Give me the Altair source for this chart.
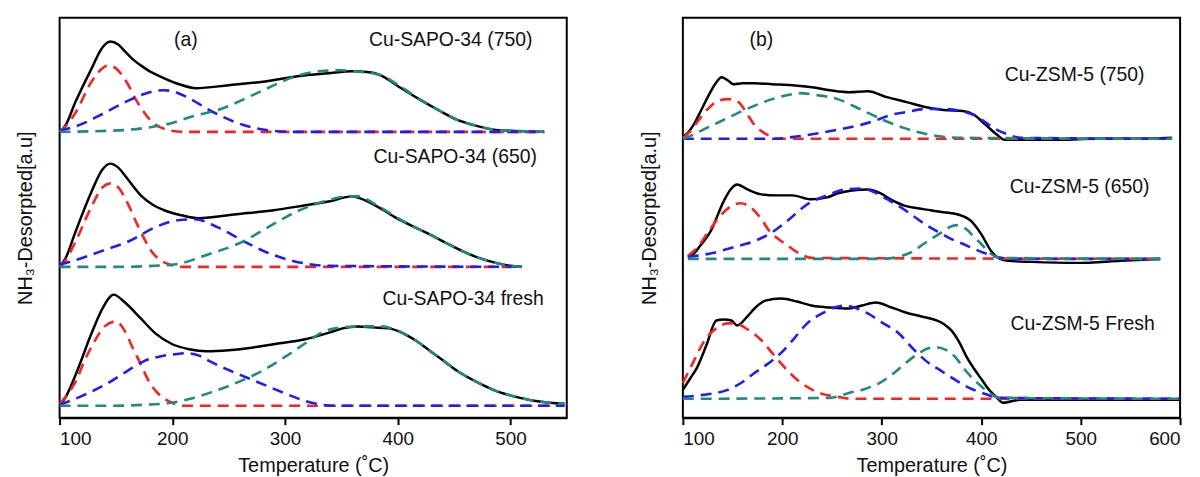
import altair as alt
import pandas as pd

# ---------------- data (T in degC, h = height above each curve's baseline, a.u.) ----------------
# Panel (a) Cu-SAPO-34
A750_TOTAL = [(100,0),(105,6),(114,30),(128,63),(138,85),(145,91),(152,88),(158,81),(165,73),(172,67),(180,61),(189,56),(206,48),(221,44),(250,47),(284,51),(311,56),(338,59),(360,61),(375,60),(385,57),(399,47),(419,33),(436,22),(453,12),(470,6),(487,2),(504,1),(530,0)]
A750_RED = [(100,0),(105,5),(114.5,20),(128,50),(138,64),(143,67),(150,64),(158.5,52),(169,30),(182,10),(196,2),(210,0),(530,0)]
A750_BLUE = [(100,1),(120,8),(138,18),(162,32),(180,40),(192,42),(200,41),(213,35),(236,20),(263,7),(290,1),(310,0),(530,0)]
A750_TEAL = [(100,0),(141,1),(160,2),(182,5),(200,9),(216,15),(243,23),(277,40),(307,55),(330,61),(350,62),(362,61),(385,57),(402,46),(419,33),(436,22),(453,12),(470,6),(487,2),(504,1),(530,0)]

A650_TOTAL = [(100,0),(105,8),(114,35),(128,75),(138,98),(145,104),(152,100),(160,89),(172,72),(182,63),(195,56),(208,52),(223,49),(257,53),(290,57),(318,62),(340,66),(359,71),(380,62),(399,49),(415,40),(428,33),(443,24),(457,16),(472,9),(487,4),(500,1),(510,0)]
A650_RED = [(100,0),(105,6),(114,25),(128,60),(138,80),(145,84),(152,80),(160,65),(170,40),(182,15),(196,3),(210,0),(510,0)]
A650_BLUE = [(100,2),(120,9),(140,17),(162,26),(185,40),(205,47),(220,48),(240,40),(263,26),(285,14),(307,6),(340,1),(510,0)]
A650_TEAL = [(100,0),(150,0),(199,2),(233,13),(260,24),(285,40),(311,56),(335,66),(355,71),(365,71),(380,63),(399,50),(415,40),(428,33),(443,24),(457,16),(472,9),(487,4),(500,1),(510,0)]

AFR_TOTAL = [(100,0),(105,8),(114.5,32),(128,72),(138,98),(148,112),(158,104),(172,88),(185,73),(200,62),(215,57),(230,55),(250,56),(267,58),(290,62),(318,67),(340,74),(351,78),(365,80),(378,79),(392,78),(405,73),(417,65),(429,55),(441,45),(453,35),(470,24),(487,15),(505,9),(521,5),(535,3),(548,2)]
AFR_RED = [(100,2),(106,10),(114.5,25),(122,45),(131,65),(140,80),(150,85),(158,75),(165,58),(172,42),(179,25),(186,14),(192,8),(200,3),(209,0),(548,0)]
AFR_BLUE = [(100,1),(120,10),(141.6,22),(160,35),(175,45),(190,50),(202.5,52),(213,53),(225,50),(233,45),(250,36),(267,28),(284,20),(301,12),(315,6),(328,2),(345,0),(548,0)]
AFR_TEAL = [(100,0),(148,0),(175,1),(199,3),(216,7),(233,13),(250,20),(267,28),(284,38),(301,50),(318,63),(334.5,75),(350,79),(368,80),(385,80),(405,73),(417,65),(429,55),(441,45),(453,35),(470,24),(487,15),(505,9),(521,5),(535,3),(548,2)]

# Panel (b) Cu-ZSM-5
B750_TOTAL = [(100,2),(105,6),(110.7,14),(118,28),(126,44),(133,56),(139,62),(145,59),(151,55),(160,56),(172,56),(190,55),(210,54),(230,52),(248,49),(267,47),(286,48),(305,42),(325,37),(343.5,32),(362,29),(381.7,28),(393,24),(404.6,14),(416,4),(423.7,-1),(439,-1),(480,-1),(515,0),(555,0),(591.6,1)]
B750_RED = [(100,1),(107,7),(114.5,17),(125,30),(135,38),(145,40),(156,37),(164,26),(172,14),(180,7),(187,3),(198,0),(592,0)]
B750_BLUE = [(100,0),(191,0),(212,2),(233,5),(255,9),(278.6,14),(295,19),(309,24),(325,27),(343.5,30),(362.6,30),(380,28),(393,24),(405,16),(416,9),(428,4),(439,1),(592,0)]
B750_TEAL = [(100,0),(110,4),(122,10),(143,20),(164,30),(190,40),(210,45),(218,46),(235,44),(255.7,40),(278,30),(301.5,19),(322,11),(343.5,5),(362,2),(381.7,1),(592,0)]

B650_TOTAL = [(105,2),(110.7,5),(118,14),(128,28),(141,58),(148,70),(154.6,75),(165,70),(179,65),(195,64),(210,64),(229,60),(245,62),(255.7,66),(270,69),(286,70),(299,66),(309,60),(322,54),(336,51),(349,49),(362,47),(376,45),(390,38),(400,25),(410,8),(417,1),(427,-2),(450,-3),(496,-4),(540,-2),(580,0)]
B650_RED = [(105,3),(115,12),(126,28),(140,46),(150,54),(158,56),(168,52),(179,40),(187,28),(196,20),(206,13),(218,5),(229,1),(580,0)]
B650_BLUE = [(105,2),(130,6),(152,12),(172,18),(190,27),(207,40),(225,55),(245,64),(263,70),(278.6,71),(295,66),(309,58),(322,50),(332,43),(345,34),(359,26),(370,20),(382,15),(393,10),(403,6),(416,2),(430,0),(580,0)]
B650_TEAL = [(105,0),(300,0),(320,3),(332,8),(342,15),(359,26),(368,32),(376,34),(385,30),(393,22),(400,15),(410,5),(420,1),(580,0)]

BFR_TOTAL = [(100,9),(107,20),(114.5,32),(124,55),(133.6,79),(141,80),(149,79),(154.6,74),(164,82),(173,92),(183,99),(198.5,101),(215,98),(229,94),(248,92),(267,91),(280,94),(294,97),(310,92),(324,87),(340,83),(355,79),(363,75),(370,69),(378,57),(385.5,42),(393,30),(400.8,19),(408,9),(416,1),(421.8,-4),(439,-1),(500,-1),(600,-1)]
BFR_RED = [(100,16),(110,36),(122,59),(135,72),(145,76),(152.7,76),(165,70),(179,59),(190,46),(202,32),(214,20),(225,12),(240,5),(255.7,2),(270,0),(600,0)]
BFR_BLUE = [(100,2),(120,4),(145,9),(160,17),(172,26),(185,35),(198.5,46),(212,61),(225,76),(240,86),(252,92),(263,94),(275,91),(286,86),(300,77),(317,66),(330,52),(343.5,39),(360,28),(374,19),(388,11),(400.8,6),(420,1),(600,0)]
BFR_TEAL = [(100,0),(248,1),(267,6),(283,10),(298,16),(311,25),(324,36),(336,45),(347,51),(355,52),(365,49),(374,42),(383,30),(393,19),(400.8,12),(408,6),(420,1),(600,0)]

# baselines of the stacked curves (a.u. above the panel bottom)
A_OFFSETS = {"750": 288, "650": 152, "fresh": 12}
B_OFFSETS = {"750": 281, "650": 160, "fresh": 19}

# labels: (T, y, text)
A_LABELS = [(212, 381, "(a)"), (447, 381, "Cu-SAPO-34 (750)"), (451, 263, "Cu-SAPO-34 (650)"), (458, 120, "Cu-SAPO-34 fresh")]
B_LABELS = [(179, 381, "(b)"), (494, 345, "Cu-ZSM-5 (750)"), (499, 232, "Cu-ZSM-5 (650)"), (502, 94, "Cu-ZSM-5 Fresh")]

A_TICKS = [100, 200, 300, 400, 500]
B_TICKS = [100, 200, 300, 400, 500, 600]

COMPONENTS = ["total", "red", "blue", "teal"]
COLORS = {"total": "#000000", "red": "#ff2020", "blue": "#1c1cff", "teal": "#1f8a80"}

A_CURVES = {
    "750": [A750_TOTAL, A750_RED, A750_BLUE, A750_TEAL],
    "650": [A650_TOTAL, A650_RED, A650_BLUE, A650_TEAL],
    "fresh": [AFR_TOTAL, AFR_RED, AFR_BLUE, AFR_TEAL],
}
B_CURVES = {
    "750": [B750_TOTAL, B750_RED, B750_BLUE, B750_TEAL],
    "650": [B650_TOTAL, B650_RED, B650_BLUE, B650_TEAL],
    "fresh": [BFR_TOTAL, BFR_RED, BFR_BLUE, BFR_TEAL],
}


def build_df(curves, offsets):
    rows = []
    for sample, comps in curves.items():
        for comp, pts in zip(COMPONENTS, comps):
            for t, h in pts:
                rows.append({"sample": sample, "comp": comp, "T": t, "y": h + offsets[sample]})
    return pd.DataFrame(rows)


def panel(curves, offsets, labels, xmax, ticks, width):
    df = build_df(curves, offsets)
    x = alt.X("T:Q", scale=alt.Scale(domain=[100, xmax], nice=False, zero=False),
              axis=alt.Axis(values=ticks, title="Temperature (˚C)", format="d"))
    y = alt.Y("y:Q", scale=alt.Scale(domain=[0, 403], nice=False, zero=False),
              axis=alt.Axis(title="NH₃-Desorpted[a.u]", labels=False, ticks=False, domain=False))
    layers = []
    for comp in COMPONENTS:
        sub = df[df["comp"] == comp]
        if comp == "total":
            mk = alt.Chart(sub).mark_line(color=COLORS[comp], strokeWidth=2.5, interpolate="monotone")
        else:
            mk = alt.Chart(sub).mark_line(color=COLORS[comp], strokeWidth=2.6, strokeDash=[11, 7],
                                          interpolate="monotone")
        layers.append(mk.encode(x=x, y=y, detail="sample:N"))
    ldf = pd.DataFrame(labels, columns=["T", "y", "text"])
    txt = alt.Chart(ldf).mark_text(fontSize=19.5, font="Liberation Sans", color="#111111",
                                   align="center", baseline="middle").encode(
        x=alt.X("T:Q"), y=alt.Y("y:Q"), text="text:N")
    layers.append(txt)
    return alt.layer(*layers).properties(width=width, height=403)


pa = panel(A_CURVES, A_OFFSETS, A_LABELS, 550, A_TICKS, 511)
pb = panel(B_CURVES, B_OFFSETS, B_LABELS, 600, B_TICKS, 501)

chart = alt.hconcat(pa, pb, spacing=68).properties(
    padding={"left": 7, "top": 7, "right": 5, "bottom": 5}
).configure(font="Liberation Sans").configure_view(
    stroke="black", strokeWidth=2
).configure_axis(
    grid=False, labelFontSize=19, titleFontSize=20, titleFontWeight="normal",
    labelColor="#111111", titleColor="#111111", domainColor="black", domainWidth=2,
    tickColor="black", tickWidth=2, tickSize=7, labelPadding=5,
).configure_axisY(titlePadding=24).configure_axisX(titlePadding=7)

chart.save("out.html", embed_options={"renderer": "svg", "actions": False})
